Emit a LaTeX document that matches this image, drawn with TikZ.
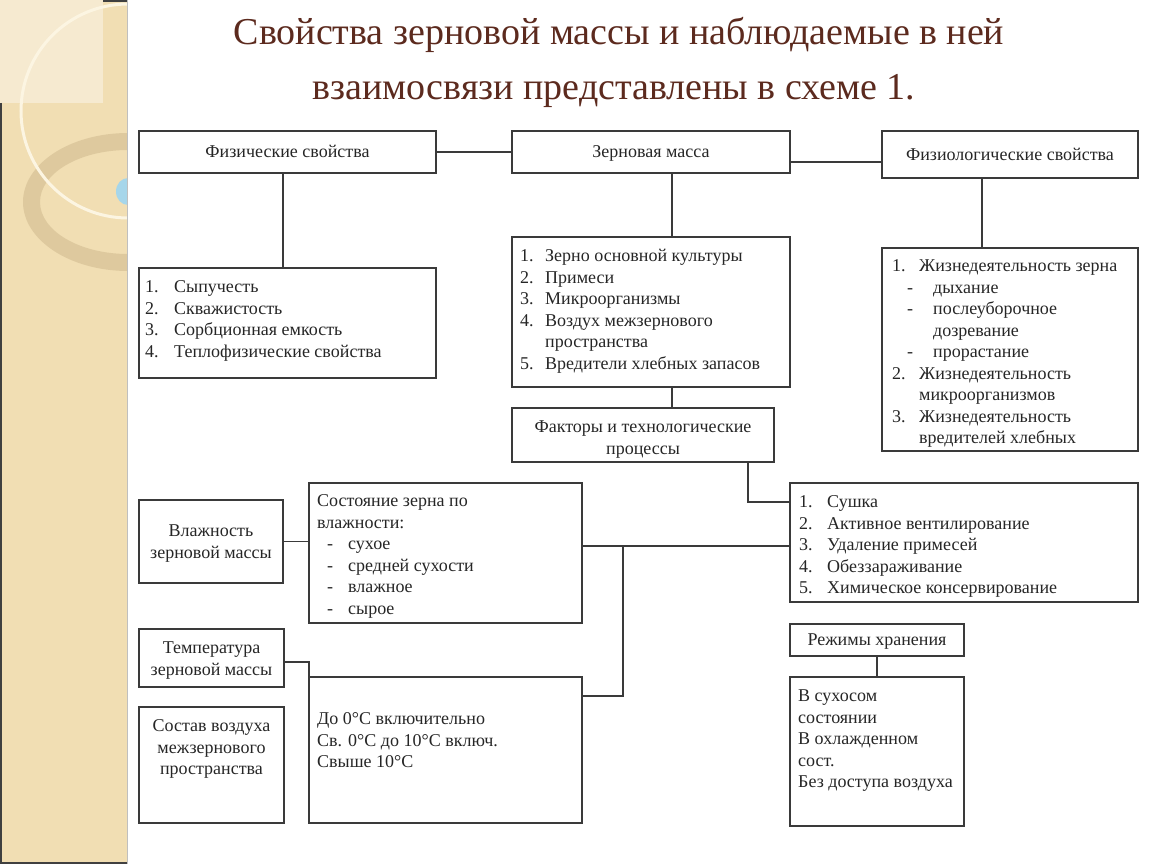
\documentclass[tikz,border=0pt]{standalone}
\usepackage{fontspec}
\setmainfont{Liberation Serif}
\definecolor{linec}{HTML}{3A3A3A}
\definecolor{txtc}{HTML}{262626}
\definecolor{titlec}{HTML}{5C2A1E}
\definecolor{stripc}{HTML}{F1DEB3}
\definecolor{lightc}{HTML}{F6EAD0}
\definecolor{ringc}{HTML}{D8C398}
\definecolor{whiter}{HTML}{FCF5E2}
\definecolor{dotc}{HTML}{A6D6EA}
\newcommand\boxf{\fontsize{18}{21.5}\selectfont}
\newcommand\titlef{\fontsize{38}{55}\selectfont}
\begin{document}
\begin{tikzpicture}[x=1pt,y=-1pt,
  bx/.style={draw=linec, line width=1.7pt, inner sep=0pt, outer sep=0pt, anchor=north west, font=\boxf, text=txtc, text height=15pt, text depth=4pt},
  txt/.style={inner sep=0pt, align=left, font=\boxf, text=txtc, anchor=north west},
  ctxt/.style={inner sep=0pt, align=center, font=\boxf, text=txtc, anchor=north},
  conn/.style={draw=linec, line width=1.7pt},
  ttl/.style={inner sep=0pt, font=\titlef, text=titlec, anchor=base}]
\useasboundingbox (0,0) rectangle (1150,864);
\fill[white] (0,0) rectangle (1150,864);
% ---- left decorative strip ----
\begin{scope}
\clip (0,0) rectangle (127,864);
\fill[stripc] (0,0) rectangle (127,864);
\fill[lightc] (0,0) rectangle (103,103);
\fill[ringc, opacity=0.75, even odd rule] (128,202) ellipse [x radius=105, y radius=69] (128,202) ellipse [x radius=88, y radius=52];
\draw[whiter, line width=3pt] (128,111) circle [radius=107];
\fill[dotc] (128,191.5) ellipse [x radius=12, y radius=13.5];
\end{scope}
\draw[black!75, line width=2pt] (1,103) -- (1,864);
\draw[black!75, line width=2pt] (103,1) -- (127,1);
\draw[black!75, line width=2pt] (0,863) -- (127,863);
\draw[black!25, line width=1.2pt] (127.5,0) -- (127.5,864);
% ---- title ----
\node[ttl] (t1) at (619,45) {Свойства зерновой массы и наблюдаемые в ней};
\node[ttl] (t2) at (614,100) {взаимосвязи представлены в схеме 1.};
% ---- boxes ----
\node[bx, minimum width=297pt, minimum height=42pt] (A) at (139,131) {Физические свойства};
\node[bx, minimum width=278pt, minimum height=42pt] (B) at (512,131) {Зерновая масса};
\node[bx, minimum width=256pt, minimum height=47pt] (C) at (882,131) {Физиологические свойства};
\node[bx, minimum width=297pt, minimum height=110pt] (D) at (139,268) {};
\node[bx, minimum width=278pt, minimum height=150pt] (E) at (512,237) {};
\node[bx, minimum width=262pt, minimum height=54pt] (F) at (512,408) {};
\node[bx, minimum width=256pt, minimum height=203pt] (G) at (882,248) {};
\node[bx, minimum width=348pt, minimum height=119pt] (H) at (790,483) {};
\node[bx, minimum width=144pt, minimum height=83pt] (I) at (139,500) {};
\node[bx, minimum width=273pt, minimum height=140pt] (J) at (309,483) {};
\node[bx, minimum width=145pt, minimum height=58pt] (L) at (139,629) {};
\node[bx, minimum width=273pt, minimum height=146pt] (K) at (309,677) {};
\node[bx, minimum width=145pt, minimum height=116pt] (M) at (139,707) {};
\node[bx, minimum width=174pt, minimum height=32pt] (N) at (790,624) {Режимы хранения};
\node[bx, minimum width=174pt, minimum height=149pt] (O) at (790,677) {};
% ---- box texts ----
\node[txt] (tD) at (145,277.5) {\strut\makebox[29pt][l]{1.}Сыпучесть\\\makebox[29pt][l]{2.}Скважистость\\\makebox[29pt][l]{3.}Сорбционная емкость\\\makebox[29pt][l]{4.}Теплофизические свойства};
\node[txt] (tE) at (520,246.5) {\strut\makebox[25pt][l]{1.}Зерно основной культуры\\\makebox[25pt][l]{2.}Примеси\\\makebox[25pt][l]{3.}Микроорганизмы\\\makebox[25pt][l]{4.}Воздух межзернового\\\hspace*{25pt}пространства\\\makebox[25pt][l]{5.}Вредители хлебных запасов};
\node[ctxt] (tF) at (643,417.5) {\strut Факторы и технологические\\процессы};
\node[txt] (tG) at (892,256.5) {\strut\makebox[27pt][l]{1.}Жизнедеятельность зерна\\\hspace*{15pt}\makebox[26pt][l]{-}дыхание\\\hspace*{15pt}\makebox[26pt][l]{-}послеуборочное\\\hspace*{41pt}дозревание\\\hspace*{15pt}\makebox[26pt][l]{-}прорастание\\\makebox[27pt][l]{2.}Жизнедеятельность\\\hspace*{27pt}микроорганизмов\\\makebox[27pt][l]{3.}Жизнедеятельность\\\hspace*{27pt}вредителей хлебных};
\node[txt] (tH) at (799,492.5) {\strut\makebox[28pt][l]{1.}Сушка\\\makebox[28pt][l]{2.}Активное вентилирование\\\makebox[28pt][l]{3.}Удаление примесей\\\makebox[28pt][l]{4.}Обеззараживание\\\makebox[28pt][l]{5.}Химическое консервирование};
\node[ctxt] (tI) at (211,521.5) {\strut Влажность\\зерновой массы};
\node[txt] (tJ) at (317,491.5) {\strut Состояние зерна по\\влажности:\\\hspace*{10pt}\makebox[21pt][l]{-}сухое\\\hspace*{10pt}\makebox[21pt][l]{-}средней сухости\\\hspace*{10pt}\makebox[21pt][l]{-}влажное\\\hspace*{10pt}\makebox[21pt][l]{-}сырое};
\node[ctxt] (tL) at (211.5,638.5) {\strut Температура\\зерновой массы};
\node[txt] (tK) at (317,709.5) {\strut До 0°C включительно\\Св. 0°C до 10°C включ.\\Свыше 10°C};
\node[ctxt] (tM) at (211.5,716.5) {\strut Состав воздуха\\межзернового\\пространства};
\node[txt] (tO) at (798,686.5) {\strut В сухосом\\состоянии\\В охлажденном\\сост.\\Без доступа воздуха};
% ---- connectors ----
\draw[conn] (A.east) -- (B.west);
\draw[conn] ([yshift=-10pt]B.east) coordinate (bc) -- (bc -| C.west);
\draw[conn] ([xshift=-4.5pt]A.south) coordinate (ad) -- (ad |- D.north);
\draw[conn] ([xshift=21pt]B.south) coordinate (be) -- (be |- E.north);
\draw[conn] ([xshift=21pt]E.south) coordinate (ef) -- (ef |- F.north);
\draw[conn] ([xshift=-28pt]C.south) coordinate (cg) -- (cg |- G.north);
\draw[conn] ([xshift=236pt]F.south west) |- ([yshift=-19pt]H.north west);
\draw[conn] (I.east) -- (I.east -| J.west);
\draw[conn] ([yshift=7pt]J.east) coordinate (jh) -- (jh -| H.west);
\draw[conn] ([xshift=41pt]jh) coordinate (jv) |- ([yshift=-19pt]K.north east);
\draw[conn] ([yshift=-4pt]L.east) -| (K.north west);
\draw[conn] (N.south) -- (O.north);
\end{tikzpicture}
\end{document}
